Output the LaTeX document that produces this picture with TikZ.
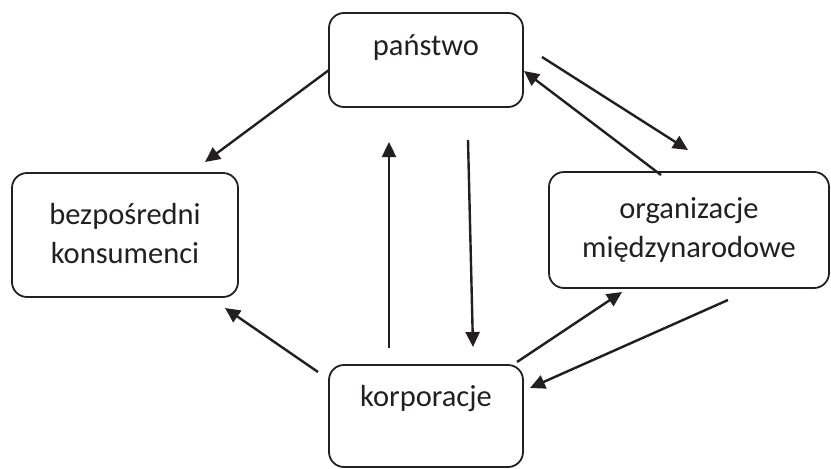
\documentclass[tikz,border=0pt]{standalone}
\usepackage{fontspec}
\setmainfont{Carlito}
\usetikzlibrary{arrows.meta}
\definecolor{ink}{HTML}{231F20}
\tikzset{
  boxfont/.style={font=\fontsize{30.5}{39}\selectfont},
  box/.style={draw=ink, line width=1.8pt, rounded corners=15pt, inner sep=0pt, align=center, text=ink, boxfont},
  conn/.style={draw=ink, line width=2.4pt, -{Triangle[length=15pt,width=14pt]}},
}
\begin{document}
\begin{tikzpicture}[x=1pt,y=-1pt]
\useasboundingbox (0,0) rectangle (831,469);
\node[box, minimum width=194pt, minimum height=94pt,
      label={[yshift=12pt, text=ink, boxfont]center:państwo}] (p) at (426,60) {};
\node[box, minimum width=226pt, minimum height=124pt, text depth=0pt] (b) at (125,235) {\raisebox{4pt}{bezpośredni}\\\raisebox{4pt}{konsumenci}};
\node[box, minimum width=280pt, minimum height=116pt] (o) at (689,230) {organizacje\\międzynarodowe};
\node[box, minimum width=194pt, minimum height=102pt,
      label={[yshift=17pt, text=ink, boxfont]center:korporacje}] (k) at (426,416) {};
% connector ends
\coordinate (pb1) at (329,70);  \coordinate (pb2) at (205,162);
\coordinate (kb1) at (318,372); \coordinate (kb2) at (225,308);
\coordinate (kp1) at (389,348); \coordinate (kp2) at (389,142);
\coordinate (pk1) at (468,140); \coordinate (pk2) at (473,347);
\coordinate (po1) at (542,57);  \coordinate (po2) at (688,150);
\coordinate (op1) at (661,175); \coordinate (op2) at (524,71);
\coordinate (ko1) at (517,362); \coordinate (ko2) at (622,292);
\coordinate (ok1) at (728,300); \coordinate (ok2) at (530,388);
\draw[conn] (pb1) -- (pb2);
\draw[conn] (kb1) -- (kb2);
\draw[conn] (kp1) -- (kp2);
\draw[conn] (pk1) -- (pk2);
\draw[conn] (po1) -- (po2);
\draw[conn] (op1) -- (op2);
\draw[conn] (ko1) -- (ko2);
\draw[conn] (ok1) -- (ok2);
\end{tikzpicture}
\end{document}
